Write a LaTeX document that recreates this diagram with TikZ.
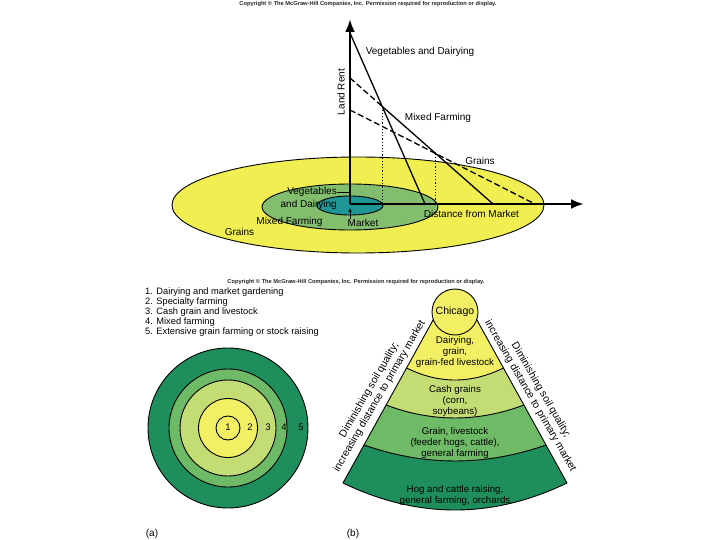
\documentclass[tikz,border=0pt]{standalone}
\usepackage{fontspec}
\setmainfont{Liberation Sans}
\usetikzlibrary{arrows.meta}
\definecolor{ellyellow}{RGB}{240,238,80}
\definecolor{ellgreen}{RGB}{130,190,110}
\definecolor{ellteal}{RGB}{30,150,150}
\definecolor{fanyellow}{RGB}{243,239,100}
\definecolor{fanlight}{RGB}{195,220,115}
\definecolor{fanmid}{RGB}{110,186,102}
\definecolor{fandark}{RGB}{30,143,92}
\tikzstyle{copyline} = [font=\fontsize{5.7}{7}\selectfont\bfseries, text=black!85, inner sep=0pt]
\tikzstyle{lbl} = [font=\fontsize{10}{12.5}\selectfont, inner sep=0pt]
\tikzstyle{axisline} = [line width=2.6pt, -{Latex[length=13pt,width=10pt]}]
\tikzstyle{rent} = [line width=1.3pt]
\tikzstyle{outline} = [draw=black, line width=0.9pt]
\tikzstyle{listitem} = [font=\fontsize{9.3}{11}\selectfont, inner sep=0pt, anchor=west]
\tikzstyle{ringnum} = [font=\fontsize{9.5}{11}\selectfont, inner sep=0pt]
\tikzstyle{fantext} = [font=\fontsize{9.7}{11}\selectfont, align=center, inner sep=0pt]
\tikzstyle{sidetext} = [font=\fontsize{10.4}{12}\selectfont, align=center, inner sep=0pt]

\begin{document}
\begin{tikzpicture}[x=1pt,y=-1pt]
	\useasboundingbox (0,0) rectangle (720,540);
	
	% von Thunen rings with bid rent lines
	\node[copyline](copytop) at (368,4){Copyright © The McGraw-Hill Companies, Inc. Permission required for reproduction or display.};
	\filldraw[fill=ellyellow, outline] (358,205) ellipse [x radius=186, y radius=48];
	\filldraw[fill=ellgreen, outline] (350,207) ellipse [x radius=88, y radius=23];
	\filldraw[fill=ellteal, outline] (350,205.5) ellipse [x radius=33, y radius=9.5];
	
	\coordinate (o) at (350,204);
	\coordinate (ytop) at (350,19);
	\coordinate (xend) at (584,204);
	\coordinate (veg0) at (350,33);
	\coordinate (veg1) at (425,204);
	\coordinate (mix0) at (350,78);
	\coordinate (mix1) at (493,204);
	\coordinate (gr0) at (350,110);
	\coordinate (gr1) at (535,204);
	\coordinate (vm) at (intersection of veg0--veg1 and mix0--mix1);
	\coordinate (mg) at (intersection of mix0--mix1 and gr0--gr1);
	
	\draw[line width=1.2pt, dotted] (vm) -- (vm |- o);
	\draw[line width=1.2pt, dotted] (mg) -- (mg |- o);
	\draw[rent] (veg0) -- (veg1);
	\draw[rent, dash pattern=on 6pt off 3pt] (mix0) -- (vm);
	\draw[rent] (vm) -- (mix1);
	\draw[rent, dash pattern=on 6pt off 3pt] (gr0) -- (gr1);
	
	\draw[axisline] (o) -- (ytop);
	\draw[axisline] (o) -- (xend);
	
	\node[lbl, rotate=90](landrent) at (341,92){Land Rent};
	\node[lbl](vegline) at (420,52){Vegetables and Dairying};
	\node[lbl](mixline) at (438,118){Mixed Farming};
	\node[lbl](grline) at (480,161){Grains};
	\node[lbl](distance) at (471.5,213.5){Distance from Market};
	\node[lbl, align=right, anchor=east](vegdairy) at (337,198.5){Vegetables\\and Dairying};
	\coordinate (vegpt) at (349,192.5);
	\draw[line width=0.8pt] (vegdairy.east |- vegpt) -- (vegpt);
	\node[lbl](mixring) at (289.5,222){Mixed Farming};
	\node[lbl](grring) at (239.5,231.5){Grains};
	\node[lbl](market) at (363,222.5){Market};
	\coordinate (mktpt) at (350,208);
	\draw[line width=0.6pt, -{Latex[length=4pt,width=3.5pt]}] (market.north -| mktpt) -- (mktpt);
	
	% (a) rings
	\node[copyline](copymid) at (356,282.5){Copyright © The McGraw-Hill Companies, Inc. Permission required for reproduction or display.};
	\foreach \i/\t in {1/Dairying and market gardening, 2/Specialty farming, 3/Cash grain and livestock, 4/Mixed farming, 5/Extensive grain farming or stock raising}
		\node[listitem](item\i) at (145,{282+10*\i}){\i. \t};
	
	\filldraw[fill=fandark, outline] (228,428) circle [radius=80];
	\filldraw[fill=fanmid, outline] (228,428) circle [radius=59];
	\filldraw[fill=fanlight, outline] (228,428) circle [radius=48];
	\filldraw[fill=fanyellow, outline] (228,428) circle [radius=29.5];
	\filldraw[fill=fanyellow, outline] (228,428) circle [radius=12];
	\node[ringnum](r1) at (228,427){1};
	\node[ringnum](r2) at (250,427){2};
	\node[ringnum](r3) at (268,427){3};
	\node[ringnum](r4) at (284,427){4};
	\node[ringnum](r5) at (301,427){5};
	\node[lbl](laba) at (152,534){(a)};
	
	% (b) fan around Chicago
	\coordinate (fantl) at (435.3,316);
	\coordinate (fantr) at (474.7,316);
	\coordinate (b1l) at (406.6,368);
	\coordinate (b1r) at (503.4,368);
	\coordinate (b2l) at (386.1,405);
	\coordinate (b2r) at (523.9,405);
	\coordinate (b3l) at (364,445);
	\coordinate (b3r) at (546,445);
	\coordinate (botl) at (343,483);
	\coordinate (botr) at (567,483);
	
	\fill[fandark] (fantl) -- (botl) .. controls (417.7,519) and (492.3,519) .. (botr) -- (fantr) -- cycle;
	\fill[fanmid] (fantl) -- (b3l) .. controls (424.7,466.3) and (485.3,466.3) .. (b3r) -- (fantr) -- cycle;
	\fill[fanlight] (fantl) -- (b2l) .. controls (432,422.3) and (478,422.3) .. (b2r) -- (fantr) -- cycle;
	\fill[fanyellow] (fantl) -- (b1l) .. controls (438.9,384) and (471.1,384) .. (b1r) -- (fantr) -- cycle;
	\draw[outline] (b1l) .. controls (438.9,384) and (471.1,384) .. (b1r);
	\draw[outline] (b2l) .. controls (432,422.3) and (478,422.3) .. (b2r);
	\draw[outline] (b3l) .. controls (424.7,466.3) and (485.3,466.3) .. (b3r);
	\draw[outline, line join=round] (fantl) -- (botl) .. controls (417.7,519) and (492.3,519) .. (botr) -- (fantr);
	
	\node[circle, outline, fill=fanyellow, minimum size=46pt, inner sep=0pt, font=\fontsize{10.5}{12}\selectfont](chicago) at (455,312){Chicago};
	\node[fantext](dairying) at (455,351.5){Dairying,\\grain,\\grain-fed livestock};
	\node[fantext](cash) at (455,401){Cash grains\\(corn,\\soybeans)};
	\node[fantext](grain) at (455,443){Grain, livestock\\(feeder hogs, cattle),\\general farming};
	\node[fantext](hog) at (455,495.5){Hog and cattle raising,\\general farming, orchards};
	
	\node[sidetext, rotate=60](sideleft) at (374.5,393){Diminishing soil quality;\\increasing distance to primary market};
	\node[sidetext, rotate=-60](sideright) at (535.5,393){Diminishing soil quality;\\increasing distance to primary market};
	\node[lbl](labb) at (353,534){(b)};
\end{tikzpicture}
\end{document}
